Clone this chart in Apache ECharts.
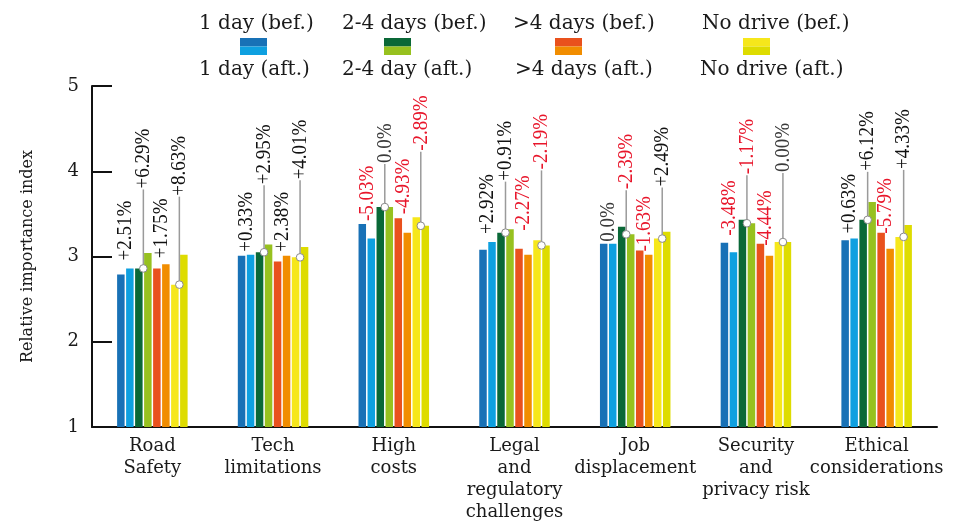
<!DOCTYPE html>
<html>
<head>
<meta charset="utf-8">
<script src="https://cdn.jsdelivr.net/npm/echarts@6/dist/echarts.min.js"></script>
<style>
html,body{margin:0;padding:0;background:#fff;}
#chart{width:968px;height:523px;}
</style>
</head>
<body>
<div id="chart"></div>
<script>
// ---------- data ----------
const categories = ['Road\nSafety', 'Tech\nlimitations', 'High\ncosts', 'Legal\nand\nregulatory\nchallenges', 'Job\ndisplacement', 'Security\nand\nprivacy risk', 'Ethical\nconsiderations'];
const seriesNames = ['1 day (bef.)', '1 day (aft.)', '2-4 days (bef.)', '2-4 day (aft.)', '>4 days (bef.)', '>4 days (aft.)', 'No drive (bef.)', 'No drive (aft.)'];
const oneDayBef   = [2.79, 3.01, 3.38, 3.08, 3.15, 3.16, 3.19];
const oneDayAft   = [2.86, 3.02, 3.21, 3.17, 3.15, 3.05, 3.21];
const twoFourBef  = [2.86, 3.05, 3.58, 3.28, 3.35, 3.43, 3.43];
const twoFourAft  = [3.04, 3.14, 3.58, 3.32, 3.26, 3.39, 3.64];
const overFourBef = [2.86, 2.94, 3.45, 3.09, 3.07, 3.15, 3.28];
const overFourAft = [2.91, 3.01, 3.28, 3.02, 3.02, 3.01, 3.09];
const noDriveBef  = [2.67, 2.99, 3.46, 3.19, 3.21, 3.17, 3.23];
const noDriveAft  = [3.02, 3.11, 3.36, 3.13, 3.29, 3.17, 3.37];
const oneDayChg   = ['+2.51%', '+0.33%', '-5.03%', '+2.92%', '0.0%', '-3.48%', '+0.63%'];
const twoFourChg  = ['+6.29%', '+2.95%', '0.0%', '+0.91%', '-2.39%', '-1.17%', '+6.12%'];
const overFourChg = ['+1.75%', '+2.38%', '-4.93%', '-2.27%', '-1.63%', '-4.44%', '-5.79%'];
const noDriveChg  = ['+8.63%', '+4.01%', '-2.89%', '-2.19%', '+2.49%', '0.00%', '+4.33%'];
const yTicks = [1, 2, 3, 4, 5];

// ---------- style / layout ----------
const colors = ['#1871b6', '#0ea0e0', '#0a6837', '#97c11f', '#e9511d', '#f18d00', '#f6e71b', '#dedc00'];
const serif = '"DejaVu Serif"';
const labelFont = '19px "Liberation Serif"';
const LABEL_THICK = 1.15;
const BAR_W = 7.5, BAR_GAP = 0.2, PITCH = BAR_W * (1 + BAR_GAP);
// label gaps above the pair (px) for direct labels, and leader-line lengths (px) for lifted labels
const directGap = [[8, 3, 3, 8, 2, 7, 5], null, [6, 4, 4, 18, -1, -2, -1], null];
const leaderLen = [null, [80, 68, 44, 52, 45, 49, 49], null, [89, 78, 75, 76, 52, 70, 68]];

const values = [oneDayBef, oneDayAft, twoFourBef, twoFourAft, overFourBef, overFourAft, noDriveBef, noDriveAft];
const changes = [oneDayChg, twoFourChg, overFourChg, noDriveChg];

function chgColor(s) {
  if (s.charAt(0) === '-') return '#e8162b';
  if (s.charAt(0) === '+') return '#111';
  return '#3a3a3a';
}

const barSeries = values.map((arr, i) => ({
  name: seriesNames[i],
  type: 'bar',
  data: arr,
  barWidth: BAR_W,
  barGap: (BAR_GAP * 100) + '%',
  itemStyle: { color: colors[i] },
  silent: true,
  z: 2
}));

function rotText(x, y, txt) {
  return {
    type: 'text', x: x, y: y, rotation: Math.PI / 2, scaleY: LABEL_THICK,
    style: { text: txt, fill: chgColor(txt), font: labelFont, align: 'left', verticalAlign: 'middle' }
  };
}

const annoSeries = {
  type: 'custom',
  silent: true,
  clip: false,
  z: 5,
  encode: { x: 0, y: 1 },
  data: categories.map((c, i) => [i, 3]),
  renderItem: function (params, api) {
    const i = params.dataIndex;
    const cx = api.coord([i, 1])[0];
    const children = [];
    for (let k = 0; k < 4; k++) {
      const bef = values[2 * k][i], aft = values[2 * k + 1][i];
      const x = cx + (2 * k - 3) * PITCH;
      const txt = changes[k][i];
      if (directGap[k]) {
        const yTop = api.coord([i, Math.max(bef, aft)])[1] - directGap[k][i];
        children.push(rotText(x, yTop, txt));
      } else {
        const yc = api.coord([i, Math.min(bef, aft)])[1];
        const yEnd = yc - leaderLen[k][i];
        children.push({
          type: 'line', shape: { x1: x, y1: yc, x2: x, y2: yEnd + 1 },
          style: { stroke: '#9a9a9a', lineWidth: 1.5 }
        });
        children.push({
          type: 'circle', shape: { cx: x, cy: yc, r: 3.8 },
          style: { fill: '#fff', stroke: '#8a8a8a', lineWidth: 1 }
        });
        children.push(rotText(x, yEnd, txt));
      }
    }
    return { type: 'group', children: children };
  }
};

// legend built as graphics (two rows per swatch)
const legendCols = [
  { tx1: 199, tx2: 199, sx: 240 },
  { tx1: 342, tx2: 342, sx: 384 },
  { tx1: 513, tx2: 515, sx: 555 },
  { tx1: 702, tx2: 700, sx: 743 }
];
const legendGraphics = [];
legendCols.forEach((c, k) => {
  legendGraphics.push({ type: 'text', left: c.tx1, top: 14, style: { text: seriesNames[2 * k], font: '20px ' + serif, fill: '#1a1a1a' } });
  legendGraphics.push({ type: 'text', left: c.tx2, top: 60, style: { text: seriesNames[2 * k + 1], font: '20px ' + serif, fill: '#1a1a1a' } });
  legendGraphics.push({ type: 'rect', left: c.sx, top: 38, shape: { width: 27, height: 8.5 }, style: { fill: colors[2 * k] } });
  legendGraphics.push({ type: 'rect', left: c.sx, top: 46.5, shape: { width: 27, height: 8.5 }, style: { fill: colors[2 * k + 1] } });
});

const chart = echarts.init(document.getElementById('chart'), null, { renderer: 'canvas' });
chart.setOption({
  animation: false,
  backgroundColor: '#fff',
  grid: { left: 92, right: 31, top: 86, bottom: 93.5 },
  graphic: legendGraphics,
  xAxis: {
    type: 'category',
    data: categories,
    boundaryGap: true,
    axisLine: { lineStyle: { color: '#111', width: 2 } },
    axisTick: { inside: true, length: 9, lineStyle: { color: '#111', width: 2 } },
    axisLabel: { interval: 0, fontFamily: serif, fontSize: 18, lineHeight: 22, color: '#1a1a1a', margin: 8 },
    splitLine: { show: false }
  },
  yAxis: {
    type: 'value',
    min: yTicks[0], max: yTicks[yTicks.length - 1], interval: 1,
    name: 'Relative importance index',
    nameLocation: 'middle',
    nameGap: 56,
    nameTextStyle: { fontFamily: serif, fontSize: 16, color: '#1a1a1a' },
    axisLine: { show: true, lineStyle: { color: '#111', width: 2 } },
    axisTick: { show: true, inside: true, length: 20, lineStyle: { color: '#111', width: 2 } },
    axisLabel: { fontFamily: serif, fontSize: 18, color: '#1a1a1a', margin: 13, padding: [6, 0, 0, 0] },
    splitLine: { show: false }
  },
  series: barSeries.concat([annoSeries])
});
</script>
</body>
</html>
